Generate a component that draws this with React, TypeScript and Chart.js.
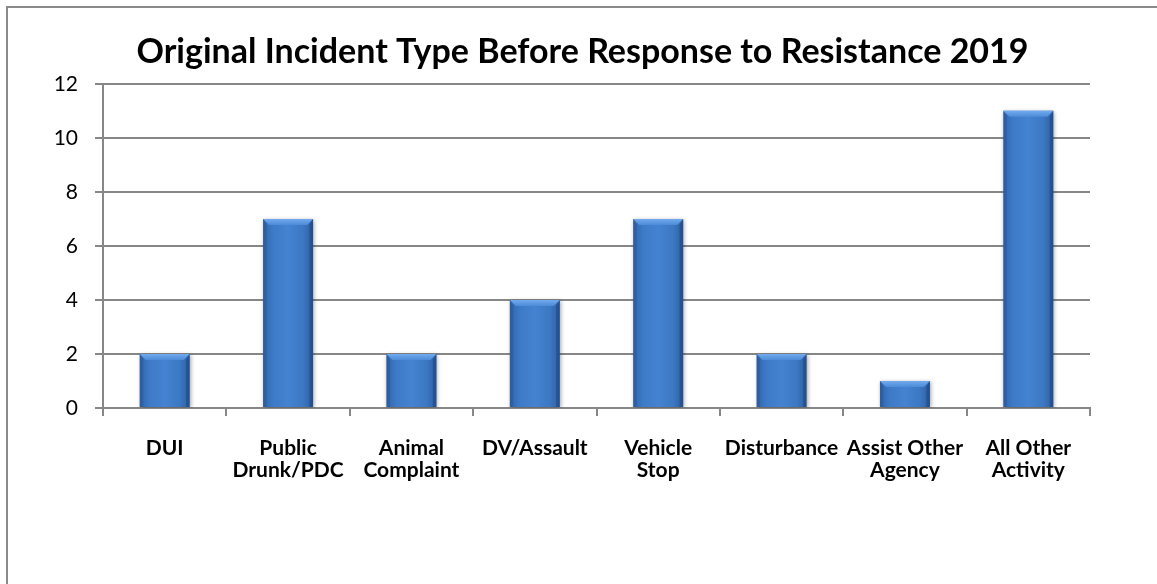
import React, { useEffect, useRef } from "react";
import { Chart, registerables } from "chart.js";

Chart.register(...registerables);

const titleText = "Original Incident Type Before Response to Resistance 2019";
const categories: string[][] = [
  ["DUI"],
  ["Public", "Drunk/PDC"],
  ["Animal", "Complaint"],
  ["DV/Assault"],
  ["Vehicle", "Stop"],
  ["Disturbance"],
  ["Assist Other", "Agency"],
  ["All Other", "Activity"],
];
const counts: number[] = [2, 7, 2, 4, 7, 2, 1, 11];
const yMin = 0;
const yMax = 12;
const yStep = 2;

const FONT = "Lato, 'Open Sans', sans-serif";
const GRID = "#878787";
const BAR_PCT = 0.405;
const W = 1157;
const H = 584;

const framePlugin = {
  id: "frame",
  beforeDraw(chart: any) {
    const ctx = chart.ctx;
    ctx.save();
    ctx.fillStyle = "#fff";
    ctx.fillRect(0, 0, chart.width, chart.height);
    ctx.strokeStyle = "#8a8a8a";
    ctx.lineWidth = 2;
    ctx.beginPath();
    ctx.moveTo(7, chart.height);
    ctx.lineTo(7, 7);
    ctx.lineTo(chart.width, 7);
    ctx.stroke();
    ctx.restore();
  },
};

const bevelPlugin = {
  id: "bevel",
  beforeDatasetsDraw(chart: any) {
    const ctx = chart.ctx;
    ctx.save();
    ctx.shadowColor = "rgba(0,0,0,0.35)";
    ctx.shadowBlur = 4;
    ctx.shadowOffsetX = 1;
    ctx.shadowOffsetY = 1;
  },
  afterDatasetsDraw(chart: any) {
    const ctx = chart.ctx;
    ctx.restore();
    const meta = chart.getDatasetMeta(0);
    meta.data.forEach((el: any) => {
      const { x, y, base, width } = el.getProps(["x", "y", "base", "width"], true);
      if (![x, y, base, width].every((v) => Number.isFinite(v))) return;
      const l = x - width / 2;
      const r = x + width / 2;
      const top = Math.min(y, base);
      const bot = Math.max(y, base);
      const b = Math.min(6, (bot - top) / 2);
      ctx.save();
      const g = ctx.createLinearGradient(0, top, 0, top + b);
      g.addColorStop(0, "#72aaee");
      g.addColorStop(1, "#4d8cd8");
      ctx.fillStyle = g;
      ctx.beginPath();
      ctx.moveTo(l, top);
      ctx.lineTo(r, top);
      ctx.lineTo(r - b, top + b);
      ctx.lineTo(l + b, top + b);
      ctx.closePath();
      ctx.fill();
      ctx.fillStyle = "rgba(30,70,130,0.28)";
      ctx.beginPath();
      ctx.moveTo(l, top);
      ctx.lineTo(l + b * 0.6, top + b);
      ctx.lineTo(l + b * 0.6, bot);
      ctx.lineTo(l, bot);
      ctx.closePath();
      ctx.fill();
      ctx.fillStyle = "rgba(20,55,110,0.38)";
      ctx.beginPath();
      ctx.moveTo(r, top);
      ctx.lineTo(r - b * 0.6, top + b);
      ctx.lineTo(r - b * 0.6, bot);
      ctx.lineTo(r, bot);
      ctx.closePath();
      ctx.fill();
      ctx.restore();
    });
  },
};

export default function App() {
  const ref = useRef<HTMLCanvasElement | null>(null);
  useEffect(() => {
    if (!ref.current) return;
    const chart = new Chart(ref.current, {
      type: "bar",
      data: {
        labels: categories,
        datasets: [
          {
            data: counts,
            yAxisID: "y",
            categoryPercentage: 1,
            barPercentage: BAR_PCT,
            borderWidth: 0,
            backgroundColor: (c: any) => {
              const ch = c.chart;
              const xs = ch.scales?.x;
              if (!xs || c.dataIndex === undefined) return "#3f7bc7";
              const cx = xs.getPixelForValue(c.dataIndex);
              const w = (xs.width / categories.length) * BAR_PCT;
              if (!Number.isFinite(cx) || !Number.isFinite(w) || w <= 0) return "#3f7bc7";
              const g = ch.ctx.createLinearGradient(cx - w / 2, 0, cx + w / 2, 0);
              g.addColorStop(0, "#3166ab");
              g.addColorStop(0.2, "#3d7ac7");
              g.addColorStop(0.5, "#4483d1");
              g.addColorStop(0.8, "#3c78c3");
              g.addColorStop(1, "#2d5ea0");
              return g;
            },
          },
        ],
      },
      plugins: [framePlugin, bevelPlugin],
      options: {
        animation: false,
        responsive: false,
        maintainAspectRatio: false,
        layout: { padding: { left: 8, right: 0, top: 0, bottom: 0 } },
        plugins: {
          legend: { display: false },
          tooltip: { enabled: false },
          title: {
            display: true,
            text: titleText,
            color: "#000",
            font: { family: FONT, size: 34, weight: "bold", lineHeight: 1.2 },
            padding: { top: 32, bottom: 11 },
          },
        },
        scales: {
          x: {
            afterFit: (s: any) => {
              s.height = 176;
            },
            grid: {
              offset: true,
              drawOnChartArea: false,
              drawTicks: true,
              tickLength: 8,
              color: GRID,
              lineWidth: 2,
            },
            border: { display: true, color: GRID, width: 2 },
            ticks: {
              color: "#000",
              maxRotation: 0,
              autoSkip: false,
              padding: 21,
              font: { family: FONT, size: 21, weight: "bold", lineHeight: 1.05 },
            },
          },
          y: {
            min: yMin,
            max: yMax,
            afterFit: (s: any) => {
              s.width = 95;
            },
            grid: {
              color: GRID,
              lineWidth: 2,
              drawTicks: true,
              tickLength: 8,
            },
            border: { display: true, color: GRID, width: 2 },
            ticks: {
              stepSize: yStep,
              color: "#000",
              padding: 17,
              font: { family: FONT, size: 21, lineHeight: 1.2 },
            },
          },
          yRight: {
            position: "right",
            min: yMin,
            max: yMax,
            afterFit: (s: any) => {
              s.width = 67;
            },
            grid: { display: false, drawTicks: false },
            border: { display: false },
            ticks: { display: false },
          },
        },
      },
    } as any);
    return () => chart.destroy();
  }, []);
  return (
    <div style={{ position: "fixed", left: 0, top: 0, width: W, height: H, background: "#fff" }}>
      <canvas ref={ref} width={W} height={H} style={{ display: "block" }} />
    </div>
  );
}
